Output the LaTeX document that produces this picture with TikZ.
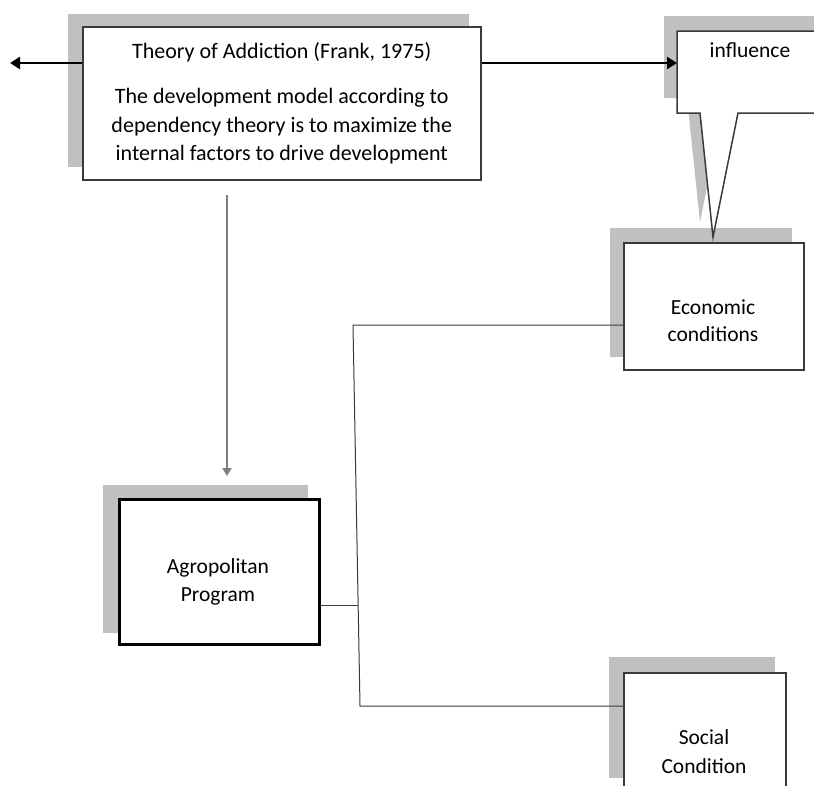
\documentclass[tikz,border=0pt]{standalone}
\usepackage{fontspec}
\setmainfont{Carlito}
\usetikzlibrary{arrows.meta}
\definecolor{shadowgray}{HTML}{C0C0C0}
\definecolor{edge}{HTML}{3A3A3A}
\definecolor{arrowgray}{HTML}{7F7F7F}
\begin{document}
\begin{tikzpicture}[x=1pt,y=-1pt,
  shadowbox/.style={fill=shadowgray},
  box/.style={draw=edge, line width=1.5pt, fill=white, inner sep=0pt, anchor=north west},
  thickbox/.style={draw=black, line width=3pt, fill=white, inner sep=0pt, anchor=north west},
  boxtext/.style={align=center, inner sep=0pt, font=\fontsize{21.5}{28}\selectfont},
  bigarrow/.style={line width=2.7pt, -{Triangle[length=10pt,width=12pt]}},
  downarrow/.style={draw=arrowgray, line width=2pt, -{Triangle[length=8pt,width=9pt]}, arrowgray},
  link/.style={draw=edge, line width=1pt}]
\useasboundingbox (0,0) rectangle (814,785);
\clip (0,0) rectangle (814,785);
% shadows
\fill[shadowbox] (68,14) rectangle (469,167);
\fill[shadowbox] (664,16) -- (830,16) -- (830,98) -- (725,98) -- (700,222) -- (687,98) -- (664,98) -- cycle;
\fill[shadowbox] (610,228) rectangle (792,357);
\fill[shadowbox] (103,485) rectangle (308,633);
\fill[shadowbox] (609,657) rectangle (775,778);
% theory box
\node[box, minimum width=398pt, minimum height=153pt, align=center,
      font=\fontsize{22}{28.5}\selectfont] (theory) at (82,26)
  {Theory of Addiction (Frank, 1975)\\[17pt]
   The development model according to\\
   dependency theory is to maximize the\\
   internal factors to drive development};
% influence callout
\draw[edge, line width=1.5pt, fill=white, line join=miter]
  (677,31) -- (830,31) -- (830,113) -- (738,113) -- (713,237) -- (700,113) -- (677,113) -- cycle;
\node[boxtext] (influence) at (750,50) {influence};
\coordinate (callL) at (677,63);
% economic
\node[box, minimum width=180pt, minimum height=127pt] (econ) at (623,242) {};
\node[boxtext, font=\fontsize{21.5}{27}\selectfont] (econT) at (713,321) {Economic\\conditions};
% agropolitan
\node[thickbox, minimum width=200pt, minimum height=145pt] (agro) at (118,498) {};
\node[boxtext] (agroT) at (218,582) {Agropolitan\\Program};
% social
\node[box, minimum width=162pt, minimum height=140pt] (social) at (623,672) {};
\node[boxtext, font=\fontsize{21.5}{29}\selectfont] (socialT) at (704,752) {Social\\Condition};
% arrows
\coordinate (leftEnd) at (10,63);
\draw[bigarrow] (theory.west |- leftEnd) -- (leftEnd);
\draw[bigarrow] (theory.east |- callL) -- (callL);
\coordinate (dtop) at (227,195);
\coordinate (dbot) at (227,476);
\draw[downarrow] (dtop) -- (dbot);
% bracket
\coordinate (bt) at (353,325);
\coordinate (bb) at (360,706);
\coordinate (bj) at (358,605);
\draw[link] (econ.west |- bt) -- (bt) -- (bb) -- (social.west |- bb);
\draw[link] (agro.east |- bj) -- (bj);
\end{tikzpicture}
\end{document}
